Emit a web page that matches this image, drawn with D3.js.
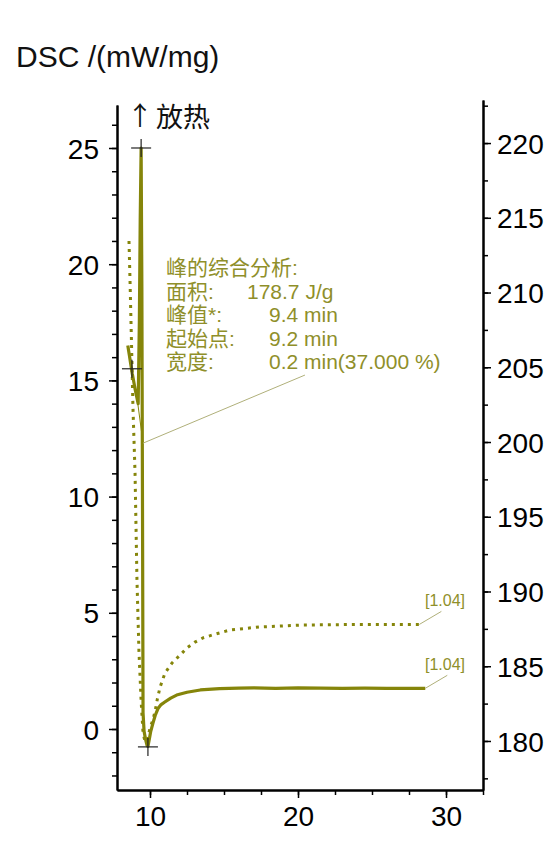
<!DOCTYPE html>
<html lang="zh">
<head>
<meta charset="UTF-8">
<title>DSC</title>
<script src="https://d3js.org/d3.v7.min.js"></script>
<style>
  body { margin: 0; background: #fff; }
  text { font-family: "Liberation Sans", Arial, "Noto Sans CJK SC", sans-serif; }
  .axis path, .axis line { stroke: #000; }
  .axis path { stroke-width: 2px; }
  .axis line { stroke-width: 1.5px; }
  .axis text { font-size: 28px; fill: #000; }
</style>
</head>
<body>
<svg id="chart" width="550" height="848"></svg>
<script>
  // solid curve: time (min) / DSC (mW/mg)
  const solidTime = [8.5, 8.6, 8.7, 8.8, 8.9, 9.0, 9.1, 9.2, 9.28, 9.34, 9.4, 9.45, 9.5, 9.53, 9.6, 9.7,
    9.8, 9.86, 9.95, 10.05, 10.2, 10.35, 10.54, 10.75, 11.0, 11.4, 11.8, 12.5, 13.4, 14.7, 16, 17, 18.5,
    20, 21.5, 23, 24.5, 26, 27.5, 28.6];
  const solidDsc = [16.5, 16.1, 15.7, 15.3, 14.95, 14.6, 14.3, 14.0, 17.5, 22.0, 25.0, 19.0, 8.0, 0.7, -0.1, -0.45,
    -0.7, -0.75, -0.45, -0.1, 0.25, 0.58, 0.88, 1.05, 1.16, 1.33, 1.46, 1.58, 1.68, 1.74, 1.76, 1.77, 1.75,
    1.77, 1.76, 1.75, 1.76, 1.75, 1.75, 1.75];

  // dotted curve
  const dottedTime = [8.58, 8.65, 8.75, 8.85, 8.99, 9.12, 9.25, 9.4, 9.53, 9.65, 9.75, 9.85, 10.0, 10.2,
    10.34, 10.5, 10.68, 11.01, 11.49, 12.03, 12.5, 13.04, 13.58, 14.19, 15.4, 17.4, 20.1, 24, 28.2];
  const dottedDsc = [21.0, 19.3, 16.6, 13.8, 11.0, 6.4, 3.4, 1.2, -0.17, -0.5, -0.55, -0.4, 0.05, 0.4,
    0.75, 1.3, 1.8, 2.4, 2.84, 3.18, 3.49, 3.74, 3.92, 4.04, 4.26, 4.39, 4.47, 4.5, 4.5];

  // cross markers on the solid curve
  const markerTime = [9.4, 8.78, 9.86];
  const markerDsc = [25.0, 15.5, -0.77];

  // baseline of the integrated peak
  const baseTime = [9.05, 9.53];
  const baseDsc = [14.6, 12.3];

  const xTicks = [10, 20, 30];
  const leftTicks = [0, 5, 10, 15, 20, 25];
  const rightTicks = [180, 185, 190, 195, 200, 205, 210, 215, 220];

  const annoLabels = ["峰的综合分析:", "面积:", "峰值*:", "起始点:", "宽度:"];
  const annoValues = ["", "178.7 J/g", "9.4 min", "9.2 min", "0.2 min(37.000 %)"];
  const endLabels = ["[1.04]", "[1.04]"];

  const olive = "#85850a";
  const textOlive = "#8f8f2a";

  const svg = d3.select("#chart");

  const x = d3.scaleLinear().domain([7.77, 32.5]).range([117, 483]);
  const yL = d3.scaleLinear().domain([-2.625, 26.85]).range([790, 105]);
  const yR = d3.scaleLinear().domain([176.72, 222.88]).range([790, 100]);

  // left axis
  svg.append("g").attr("class", "axis").attr("transform", "translate(117,0)")
    .call(d3.axisLeft(yL).tickValues(d3.range(-2, 27)).tickSize(5).tickSizeOuter(0).tickFormat(""));
  svg.append("g").attr("class", "axis").attr("transform", "translate(117,0)")
    .call(d3.axisLeft(yL).tickValues(leftTicks).tickSize(8).tickSizeOuter(0).tickPadding(10))
    .call(g => g.selectAll("text").attr("dy", "0.36em"));

  // right axis
  svg.append("g").attr("class", "axis").attr("transform", "translate(483,0)")
    .call(d3.axisRight(yR).tickValues(d3.range(177.5, 223, 2.5)).tickSize(5).tickSizeOuter(0).tickFormat(""));
  svg.append("g").attr("class", "axis").attr("transform", "translate(483,0)")
    .call(d3.axisRight(yR).tickValues(rightTicks).tickSize(8).tickSizeOuter(0).tickPadding(6))
    .call(g => g.selectAll("text").attr("dy", "0.36em"));

  // bottom axis
  svg.append("g").attr("class", "axis").attr("transform", "translate(0,790)")
    .call(d3.axisBottom(x).tickValues(d3.range(10, 32.6, 2.5)).tickSize(5).tickSizeOuter(0).tickFormat(""));
  svg.append("g").attr("class", "axis").attr("transform", "translate(0,790)")
    .call(d3.axisBottom(x).tickValues(xTicks).tickSize(8).tickSizeOuter(0).tickPadding(8));

  // curves
  const line = d3.line().x(d => x(d[0])).y(d => yL(d[1]));

  svg.append("path")
    .attr("d", line(d3.zip(dottedTime, dottedDsc)))
    .attr("fill", "none").attr("stroke", olive).attr("stroke-width", 3)
    .attr("stroke-dasharray", "3,5");

  svg.append("path")
    .attr("d", line(d3.zip(baseTime, baseDsc)))
    .attr("fill", "none").attr("stroke", olive).attr("stroke-width", 1);

  svg.append("path")
    .attr("d", line(d3.zip(solidTime, solidDsc)))
    .attr("fill", "none").attr("stroke", olive).attr("stroke-width", 3.2)
    .attr("stroke-linejoin", "round");

  // cross markers
  const marks = svg.append("g").attr("stroke", "#222").attr("stroke-width", 1.2);
  d3.zip(markerTime, markerDsc).forEach(([t, v]) => {
    marks.append("line").attr("x1", x(t) - 10).attr("x2", x(t) + 10).attr("y1", yL(v)).attr("y2", yL(v));
    marks.append("line").attr("x1", x(t)).attr("x2", x(t)).attr("y1", yL(v) - 9).attr("y2", yL(v) + 9);
  });

  // annotation block
  const anno = svg.append("g").attr("fill", textOlive).style("font-size", "21px");
  annoLabels.forEach((s, i) => {
    anno.append("text").attr("x", 166).attr("y", 275 + i * 23.5).text(s);
    if (annoValues[i]) {
      anno.append("text").attr("x", i === 1 ? 247 : 269).attr("y", 275 + i * 23.5).text(annoValues[i]);
    }
  });
  svg.append("line")
    .attr("x1", x(9.53)).attr("y1", yL(12.3))
    .attr("x2", x(20.47)).attr("y2", yL(15.23))
    .attr("stroke", "#b0b07a").attr("stroke-width", 1);

  // end labels
  const ends = [[dottedTime[dottedTime.length - 1], dottedDsc[dottedDsc.length - 1]],
                [solidTime[solidTime.length - 1], solidDsc[solidDsc.length - 1]]];
  ends.forEach(([t, v], i) => {
    svg.append("line")
      .attr("x1", x(t)).attr("y1", yL(v))
      .attr("x2", x(t) + 22).attr("y2", yL(v) - 13)
      .attr("stroke", "#b0b07a").attr("stroke-width", 1);
    svg.append("text")
      .attr("x", 425).attr("y", yL(v) - 18)
      .attr("fill", textOlive).style("font-size", "16px")
      .text(endLabels[i]);
  });

  // titles
  svg.append("text").attr("x", 16).attr("y", 67)
    .style("font-size", "30px").attr("fill", "#111").text("DSC /(mW/mg)");
  svg.append("text").attr("x", 140).attr("y", 125).attr("text-anchor", "middle")
    .style("font-family", "'Noto Sans CJK SC'").style("font-size", "26px").attr("fill", "#111").text("↑");
  svg.append("text").attr("x", 156).attr("y", 127)
    .style("font-family", "'Noto Sans CJK SC'").style("font-size", "27px").attr("fill", "#111").text("放热");
</script>
</body>
</html>
